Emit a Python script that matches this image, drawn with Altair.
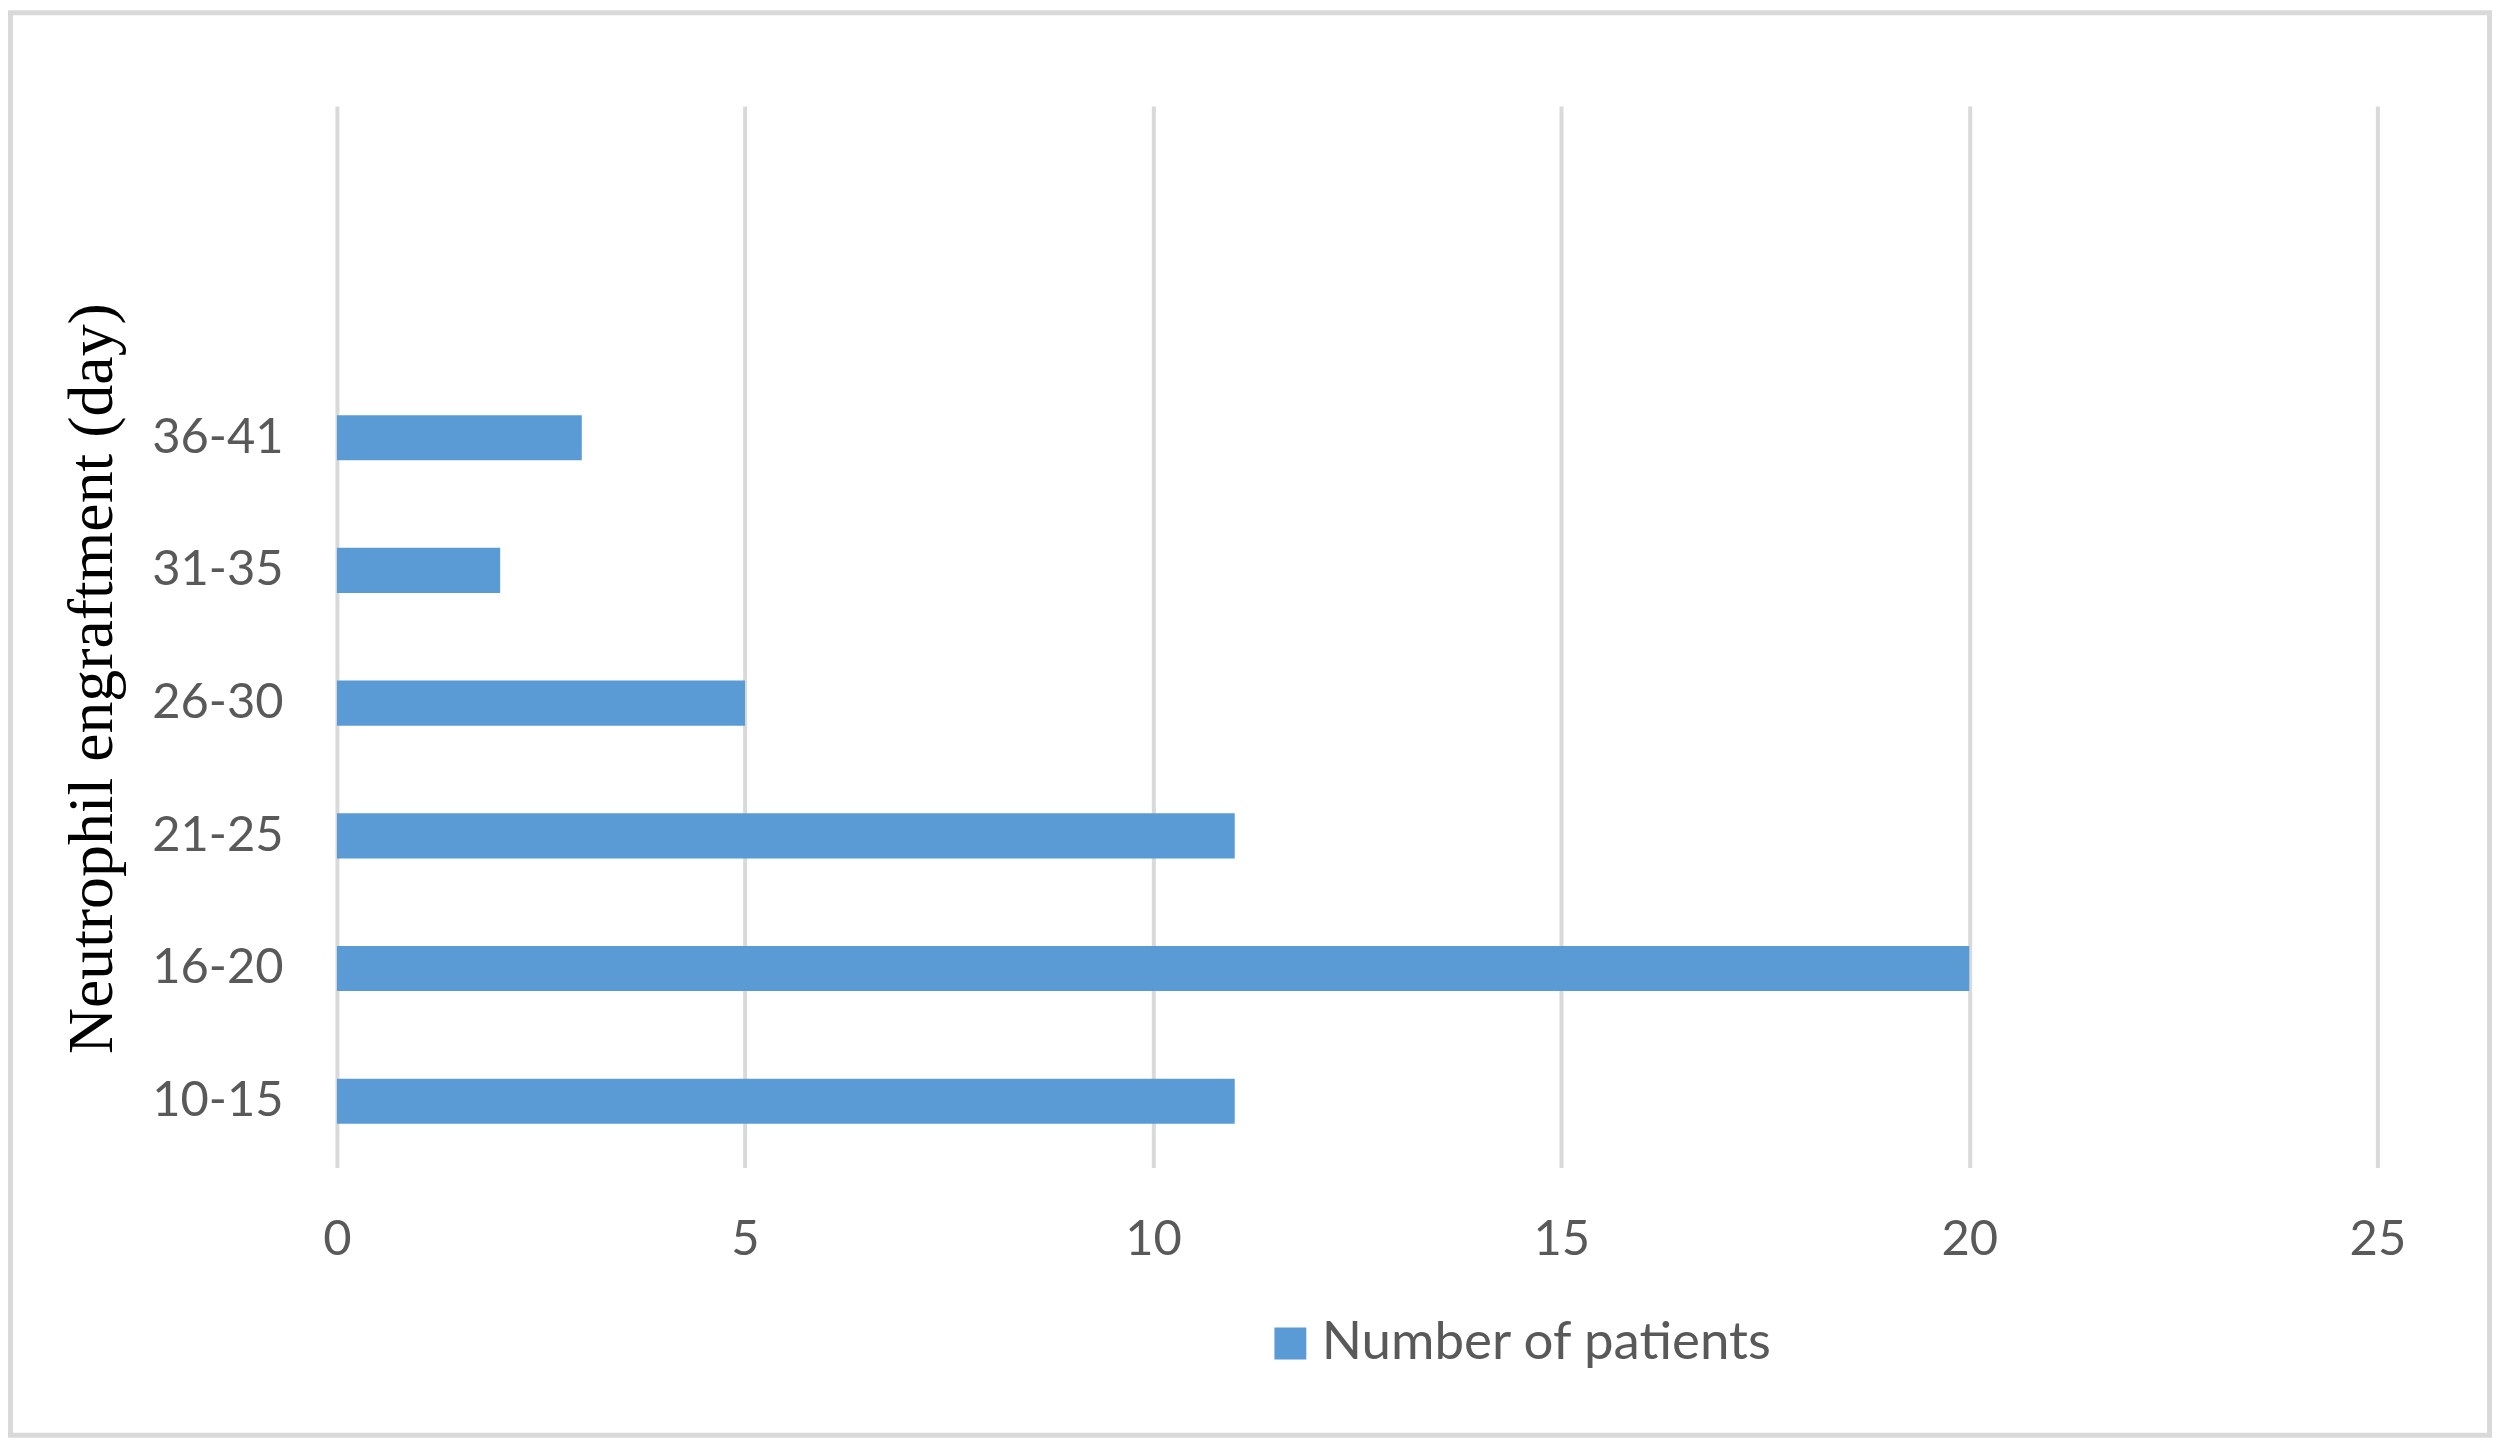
import altair as alt
import pandas as pd

categories = ["36-41", "31-35", "26-30", "21-25", "16-20", "10-15"]
patients = [3, 2, 5, 11, 20, 11]
series_name = "Number of patients"
# two empty category slots shown above the data (as in the original Excel chart)
y_domain = ["", " "] + categories
x_ticks = [0, 5, 10, 15, 20, 25]

df = pd.DataFrame({"range": categories, "count": patients, "series": [series_name] * len(categories)})

W, H = 2047, 1065
PAD_L, PAD_T = 330, 96
TOTAL_W, TOTAL_H = 2492, 1432

bars = alt.Chart(df).mark_bar(color="#5b9bd5").encode(
    x=alt.X("count:Q",
            scale=alt.Scale(domain=[0, 25], nice=False),
            axis=alt.Axis(values=x_ticks, title=None, grid=True, gridColor="#d9d9d9", gridWidth=4,
                          domain=False, ticks=False, labelFont="Lato", labelFontSize=49,
                          labelColor="#595959", labelPadding=48, labelFlush=False)),
    y=alt.Y("range:N",
            scale=alt.Scale(domain=y_domain, paddingInner=0.66, paddingOuter=0.33),
            axis=alt.Axis(title="Neutrophil engraftment (day)", titleFont="Liberation Serif",
                          titleFontSize=64, titleFontWeight="normal", titleColor="#000000",
                          titleX=-245, titleY=574, titleBaseline="middle", titleAngle=270,
                          domain=False, ticks=False, grid=False, labelFont="Lato",
                          labelFontSize=49, labelColor="#595959", labelPadding=54)),
    color=alt.Color("series:N", scale=alt.Scale(range=["#5b9bd5"]),
                    legend=alt.Legend(title=None, orient="none", legendX=930, legendY=1215,
                                      symbolType="square", symbolSize=1024, symbolStrokeWidth=0,
                                      labelFont="Lato", labelFontSize=53, labelColor="#595959",
                                      labelOffset=5, labelLimit=0, padding=0)),
)

border = alt.Chart(alt.Data(values=[{}])).mark_rect(
    filled=False, stroke="#d9d9d9", strokeWidth=5
).encode(
    x=alt.value(-PAD_L + 2.5), x2=alt.value(TOTAL_W - PAD_L - 2.5),
    y=alt.value(-PAD_T + 2.5), y2=alt.value(TOTAL_H - PAD_T - 2.5),
)

chart = alt.layer(bars, border).properties(
    width=W, height=H,
    autosize=alt.AutoSizeParams(type="none"),
    padding={"left": PAD_L, "top": PAD_T, "right": TOTAL_W - PAD_L - W, "bottom": TOTAL_H - PAD_T - H},
    background="white",
).configure_view(stroke=None)

chart.save("out.html", embed_options={"renderer": "svg", "actions": False})
